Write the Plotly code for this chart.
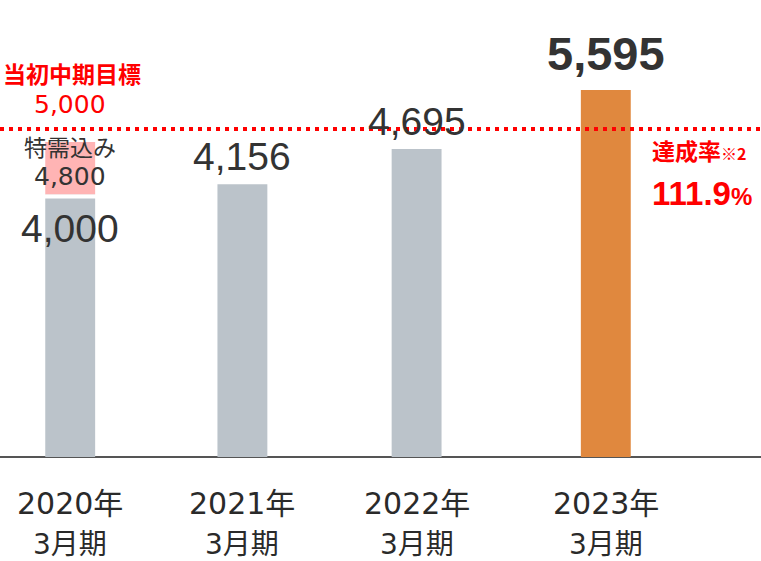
import plotly.graph_objects as go

# ---- data ----
categories = ["2020年3月期", "2021年3月期", "2022年3月期", "2023年3月期"]
year_labels = ["2020年", "2021年", "2022年", "2023年"]
period_labels = ["3月期", "3月期", "3月期", "3月期"]
sales = [4000, 4156, 4695, 5595]
value_labels = ["4,000", "4,156", "4,695", "5,595"]
special_demand_total = 4800
special_demand_label = "4,800"
special_demand_text = "特需込み"
target_value = 5000
target_label = "5,000"
target_text = "当初中期目標"
achievement_title = "達成率"
achievement_note = "※2"
achievement_rate = "111.9"

# ---- styles / layout ----
GRAY = "#bbc3ca"
ORANGE = "#e0883e"
PINK = "#ffb4b4"
RED = "#ff0000"
DARK = "#333333"
LATIN = "Liberation Sans, Arial, sans-serif"
WIDE = "DejaVu Sans, sans-serif"
CJK = "Noto Sans CJK JP, sans-serif"

bar_colors = [GRAY, GRAY, GRAY, ORANGE]

W, H = 761, 561
px_per_unit = 0.0656
base_px = 457
slot = 178.2          # px per category slot
first = 66.2          # px of first category centre
BAR_W = 0.28          # bar width in category units
nudge_px = [4, -2, -6, 5]   # small per-slot horizontal nudges (layout only)
offsets = [-BAR_W / 2 + n / slot for n in nudge_px]

fig = go.Figure()
fig.add_trace(go.Bar(
    x=categories, y=sales, marker=dict(color=bar_colors, line=dict(width=0)),
    width=BAR_W, offset=offsets, hoverinfo="skip", showlegend=False,
))
fig.add_trace(go.Bar(
    x=[categories[0]], y=[special_demand_total - sales[0]], base=[sales[0]],
    marker=dict(color=PINK, line=dict(width=0)),
    width=BAR_W, offset=[offsets[0]], hoverinfo="skip", showlegend=False,
))

# thin white separator between the pink and gray parts of the first bar
fig.add_shape(type="line", xref="x", yref="y",
              x0=offsets[0] - 0.01, x1=offsets[0] + BAR_W + 0.01,
              y0=sales[0] - 30, y1=sales[0] - 30,
              line=dict(color="white", width=4), layer="above")

# target dotted line
fig.add_shape(type="line", xref="paper", x0=0, x1=1, yref="y",
              y0=target_value, y1=target_value,
              line=dict(color=RED, width=4, dash="4px,5px"), layer="above")

ann = []
# value labels
for i, (cat, v, lab) in enumerate(zip(categories, sales, value_labels)):
    if i == 0:
        ann.append(dict(x=cat, y=v, yshift=-34, xshift=nudge_px[i], text=lab,
                        font=dict(family=LATIN, size=39, color=DARK)))
    elif i == len(categories) - 1:
        ann.append(dict(x=cat, y=v, yshift=36, xshift=nudge_px[i], text=lab,
                        font=dict(family=LATIN, size=47, color=DARK, weight="bold")))
    else:
        ann.append(dict(x=cat, y=v, yshift=28, xshift=nudge_px[i], text=lab,
                        font=dict(family=LATIN, size=39, color=DARK)))

# target label
ann.append(dict(x=categories[0], y=target_value, yshift=56, xshift=nudge_px[0] + 2,
                text=target_text,
                font=dict(family=CJK, size=23, color=RED, weight="bold")))
ann.append(dict(x=categories[0], y=target_value, yshift=25, xshift=nudge_px[0],
                text=target_label,
                font=dict(family=WIDE, size=25, color=RED)))
# special demand label
ann.append(dict(x=categories[0], y=special_demand_total, yshift=-4, xshift=nudge_px[0],
                text=special_demand_text,
                font=dict(family=CJK, size=23, color=DARK)))
ann.append(dict(x=categories[0], y=special_demand_total, yshift=-34, xshift=nudge_px[0],
                text=special_demand_label,
                font=dict(family=WIDE, size=25, color=DARK)))
# achievement rate
ann.append(dict(xref="paper", x=653 / W, xanchor="left", xshift=-3, y=target_value, yshift=-21,
                text=achievement_title + "<span style='font-size:16px'>" + achievement_note + "</span>",
                font=dict(family=CJK, size=23, color=RED, weight="bold")))
ann.append(dict(xref="paper", x=653 / W, xanchor="left", xshift=-3, y=target_value, yshift=-64,
                text=achievement_rate + "<span style='font-size:24px'>%</span>",
                font=dict(family=LATIN, size=33, color=RED, weight="bold")))

# category labels
for i, (cat, yl, pl) in enumerate(zip(categories, year_labels, period_labels)):
    ann.append(dict(x=cat, y=0, yshift=-46, xshift=nudge_px[i], text=yl,
                    font=dict(family=WIDE + ", " + CJK, size=30, color="#2a2a2a")))
    ann.append(dict(x=cat, y=0, yshift=-87, xshift=nudge_px[i], text=pl,
                    font=dict(family=WIDE + ", " + CJK, size=28, color="#2a2a2a")))

for a in ann:
    a.setdefault("xref", "x")
    a["yref"] = "y"
    a["showarrow"] = False
    a.setdefault("xanchor", "center")
    a["yanchor"] = "middle"

fig.update_layout(
    width=W, height=H, autosize=False,
    margin=dict(l=0, r=0, t=0, b=0),
    paper_bgcolor="white", plot_bgcolor="white",
    barmode="overlay",
    annotations=ann,
    xaxis=dict(type="category", categoryorder="array", categoryarray=categories,
               range=[-first / slot, (W - first) / slot],
               visible=False, showgrid=False, fixedrange=True),
    yaxis=dict(range=[-(H - base_px) / px_per_unit, base_px / px_per_unit],
               showgrid=False, showticklabels=False, ticks="",
               zeroline=True, zerolinecolor="#555555", zerolinewidth=2,
               fixedrange=True),
)

fig.write_html("out.html")
